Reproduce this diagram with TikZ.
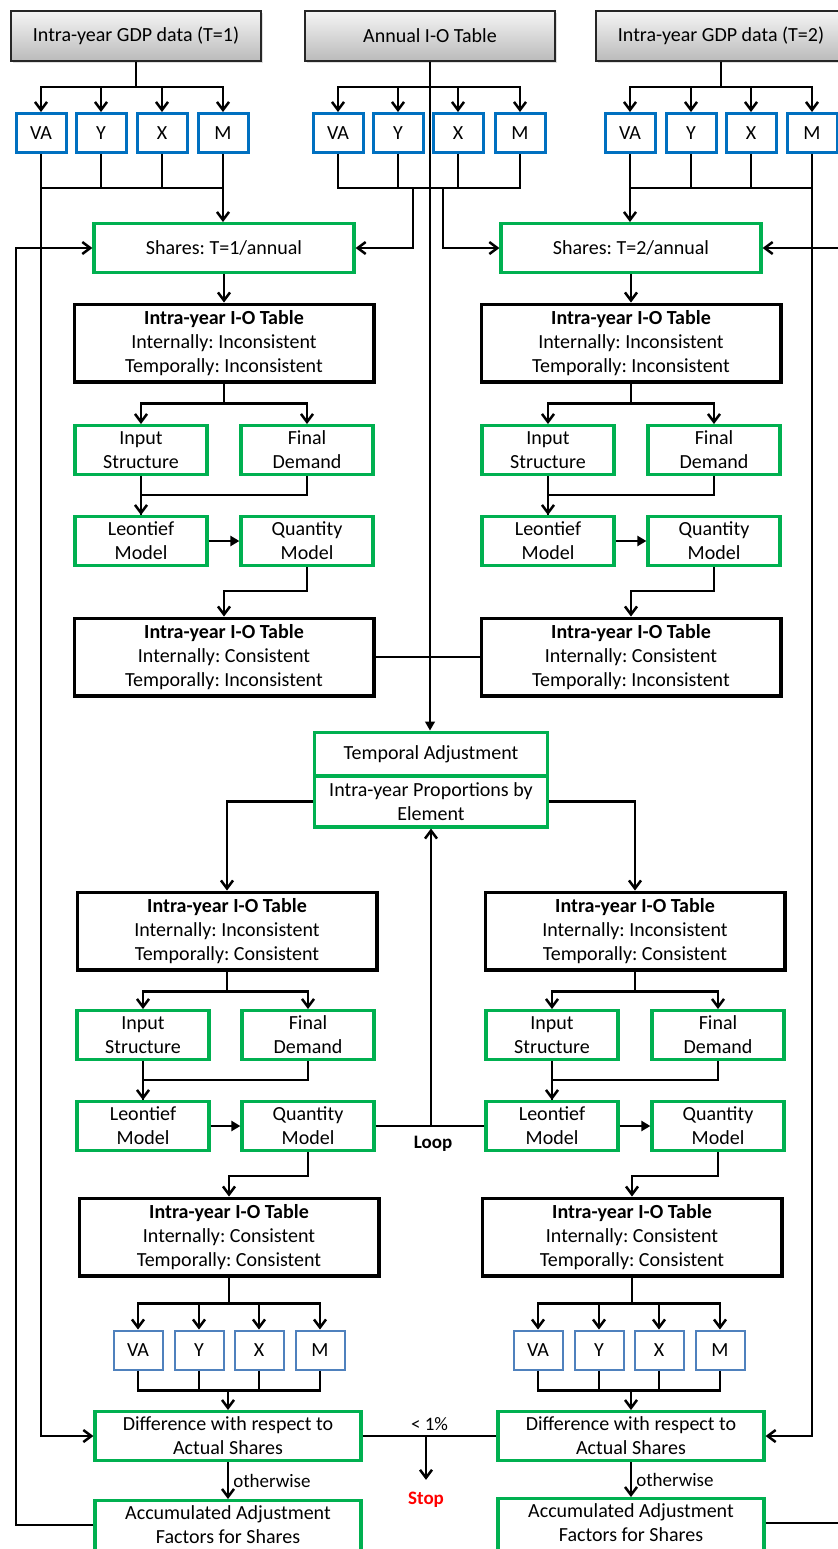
\documentclass[tikz,border=0pt]{standalone}
\usepackage{xcolor}
\usepackage{fontspec}
\setmainfont{Carlito}
\usepackage{tikz}
\usetikzlibrary{arrows.meta, shadows}
\definecolor{boxgreen}{HTML}{00B050}
\definecolor{boxblue}{HTML}{0070C0}
\definecolor{liteblue}{HTML}{4F81BD}
\definecolor{stopred}{HTML}{FF0000}
\frenchspacing

\tikzset{
  datanode/.style={draw=black!85, line width=0.9pt, top color=black!4, bottom color=black!27,
    drop shadow={opacity=0.25, shadow xshift=1pt, shadow yshift=-1pt},
    minimum width=125pt, minimum height=25pt, inner sep=2pt},
  varnode/.style={draw=boxblue, line width=1.5pt, fill=white, minimum width=25pt, minimum height=19.5pt, inner sep=1pt},
  varlite/.style={draw=liteblue, line width=1pt, fill=white, minimum width=24.5pt, minimum height=19.5pt, inner sep=1pt},
  greennode/.style={draw=boxgreen, line width=1.6pt, fill=white, align=center, inner sep=2pt, minimum height=24.4pt},
  sharenode/.style={greennode, minimum width=130pt},
  diffnode/.style={greennode, minimum width=133pt},
  halfnode/.style={greennode, minimum width=66pt},
  tempnode/.style={greennode, minimum width=116.4pt},
  tablenode/.style={draw=black, line width=1.7pt, fill=white, align=center, minimum width=149.8pt, minimum height=38.8pt, inner sep=2pt},
  flow/.style={line width=1.25pt, ->},
  wire/.style={line width=1.25pt},
  thinwire/.style={line width=0.65pt},
  tri/.style={-{Triangle[length=4.5pt, width=5pt]}},
  lbl/.style={font=\fontsize{9.5}{11}\selectfont, inner sep=2pt},
  boldlbl/.style={font=\fontsize{9.5}{11}\selectfont\bfseries, inner sep=1pt},
}

\begin{document}
\begin{tikzpicture}[x=0.5pt, y=-0.5pt, >={Straight Barb[length=4pt, width=6pt]}]
    \useasboundingbox (0,0) rectangle (838,1549);

    % Data sources
    \node[datanode] (gdp1) at (136,36) {Intra-year GDP data (T=1)};
    \node[datanode] (annual) at (430,36) {Annual I-O Table};
    \node[datanode] (gdp2) at (721,36) {Intra-year GDP data (T=2)};

    % Elements VA, Y, X, M of each source
    \foreach \n/\lab/\x in {va/VA/41, y/Y/101, x/X/162, m/M/223}
      \node[varnode] (\n1) at (\x,133) {\lab};
    \foreach \n/\lab/\x in {va/VA/338, y/Y/398, x/X/458, m/M/520}
      \node[varnode] (\n0) at (\x,133) {\lab};
    \foreach \n/\lab/\x in {va/VA/630, y/Y/691, x/X/751, m/M/812}
      \node[varnode] (\n2) at (\x,133) {\lab};

    \foreach \n in {va,y,x,m} {
      \draw[flow] (gdp1.south) -- ++(0,25) -| (\n1.north);
      \draw[flow] (annual.south) -- ++(0,25) -| (\n0.north);
      \draw[flow] (gdp2.south) -- ++(0,25) -| (\n2.north);
    }

    % Shares
    \node[sharenode] (shares1) at (224,248) {Shares: T=1/annual};
    \node[sharenode] (shares2) at (631,248) {Shares: T=2/annual};

    \foreach \n in {y,x} {
      \draw[wire] (\n1.south) -- ++(0,34);
      \draw[wire] (\n0.south) -- ++(0,34);
      \draw[wire] (\n2.south) -- ++(0,34);
    }
    \draw[wire] (va1.south) -- ++(0,34) -| (m1.south);
    \draw[wire] (va0.south) -- ++(0,34) -| (m0.south);
    \draw[wire] (va2.south) -- ++(0,34) -| (m2.south);
    \draw[flow] (m1.south) -- (m1.south |- shares1.north);
    \draw[flow] (va2.south) -- (va2.south |- shares2.north);
    \coordinate (split1) at (413,188);
    \coordinate (split2) at (443,188);
    \draw[flow] (split1) |- (shares1.east);
    \draw[flow] (split2) |- (shares2.west);

    % Upper blocks: inconsistent tables
    \node[tablenode] (tabInA) at (224,343) {\textbf{Intra-year I-O Table}\\Internally: Inconsistent\\Temporally: Inconsistent};
    \node[tablenode] (tabInB) at (631,343) {\textbf{Intra-year I-O Table}\\Internally: Inconsistent\\Temporally: Inconsistent};
    \draw[flow] (shares1) -- (tabInA);
    \draw[flow] (shares2) -- (tabInB);

    \node[halfnode] (inA) at (141,450) {Input\\Structure};
    \node[halfnode] (fdA) at (307,450) {Final\\Demand};
    \node[halfnode] (leoA) at (141,541) {Leontief\\Model};
    \node[halfnode] (qtyA) at (307,541) {Quantity\\Model};
    \node[halfnode] (inB) at (548,450) {Input\\Structure};
    \node[halfnode] (fdB) at (714,450) {Final\\Demand};
    \node[halfnode] (leoB) at (548,541) {Leontief\\Model};
    \node[halfnode] (qtyB) at (714,541) {Quantity\\Model};

    \node[tablenode] (tabOutA) at (224,657) {\textbf{Intra-year I-O Table}\\Internally: Consistent\\Temporally: Inconsistent};
    \node[tablenode] (tabOutB) at (631,657) {\textbf{Intra-year I-O Table}\\Internally: Consistent\\Temporally: Inconsistent};
    \draw[thinwire] (tabOutA) -- (tabOutB);

    % Temporal adjustment
    \node[tempnode, minimum height=21.9pt] (tempTop) at (431,754) {Temporal Adjustment};
    \node[tempnode, minimum height=25.5pt, anchor=north] (tempBot) at ([yshift=1.6pt]tempTop.south) {Intra-year Proportions by\\Element};
    \draw[thinwire, tri] (annual.south) -- (annual.south |- tempTop.north);

    % Lower blocks: temporally consistent tables
    \node[tablenode] (tabInC) at (227,931) {\textbf{Intra-year I-O Table}\\Internally: Inconsistent\\Temporally: Consistent};
    \node[tablenode] (tabInD) at (635,931) {\textbf{Intra-year I-O Table}\\Internally: Inconsistent\\Temporally: Consistent};
    \draw[flow] (tempBot.west) -| (tabInC.north);
    \draw[flow] (tempBot.east) -| (tabInD.north);

    \node[halfnode] (inC) at (143,1035) {Input\\Structure};
    \node[halfnode] (fdC) at (308,1035) {Final\\Demand};
    \node[halfnode] (leoC) at (143,1126) {Leontief\\Model};
    \node[halfnode] (qtyC) at (308,1126) {Quantity\\Model};
    \node[halfnode] (inD) at (552,1035) {Input\\Structure};
    \node[halfnode] (fdD) at (718,1035) {Final\\Demand};
    \node[halfnode] (leoD) at (552,1126) {Leontief\\Model};
    \node[halfnode] (qtyD) at (718,1126) {Quantity\\Model};

    \node[tablenode] (tabOutC) at (229,1237) {\textbf{Intra-year I-O Table}\\Internally: Consistent\\Temporally: Consistent};
    \node[tablenode] (tabOutD) at (632,1237) {\textbf{Intra-year I-O Table}\\Internally: Consistent\\Temporally: Consistent};

    % Same wiring inside each block
    \foreach \b in {A,B,C,D} {
      \draw[flow] (tabIn\b.south) -- ++(0,20) -| (in\b.north);
      \draw[flow] (tabIn\b.south) -- ++(0,20) -| (fd\b.north);
      \draw[wire] (in\b) -- (leo\b);
      \draw[flow] (fd\b.south) -- ++(0,19) -| (leo\b.north);
      \draw[wire, tri] (leo\b) -- (qty\b);
      \draw[flow] (qty\b.south) -- ++(0,24) -| (tabOut\b.north);
    }

    % Loop
    \draw[wire] (qtyC) -- (leoD);
    \draw[flow] (tempBot.south |- qtyC.east) -- (tempBot.south);
    \node[boldlbl] (looplbl) at (433,1144) {Loop};

    % Elements of the adjusted tables
    \foreach \n/\lab/\x in {va/VA/138, y/Y/199, x/X/259, m/M/320}
      \node[varlite] (\n3) at (\x,1350) {\lab};
    \foreach \n/\lab/\x in {va/VA/538, y/Y/599, x/X/659, m/M/720}
      \node[varlite] (\n4) at (\x,1350) {\lab};
    \foreach \n in {va,y,x,m} {
      \draw[flow] (tabOutC.south) -- ++(0,26) -| (\n3.north);
      \draw[flow] (tabOutD.south) -- ++(0,26) -| (\n4.north);
    }
    \foreach \n in {y,x} {
      \draw[wire] (\n3.south) -- ++(0,20);
      \draw[wire] (\n4.south) -- ++(0,20);
    }
    \draw[wire] (va3.south) -- ++(0,20) -| (m3.south);
    \draw[wire] (va4.south) -- ++(0,20) -| (m4.south);

    % Check against actual shares
    \node[diffnode] (diff1) at (228,1436) {Difference with respect to\\Actual Shares};
    \node[diffnode] (diff2) at (631,1436) {Difference with respect to\\Actual Shares};
    \node[diffnode, minimum height=28.4pt, anchor=north] (acc1) at (228,1499) {};
    \node[diffnode, minimum height=28.4pt, anchor=north] (acc2) at (631,1497) {};
    \node[align=center, inner sep=0pt] (acc1txt) at (228,1525) {Accumulated Adjustment\\Factors for Shares};
    \node[align=center, inner sep=0pt] (acc2txt) at (631,1523) {Accumulated Adjustment\\Factors for Shares};
    \draw[flow] ([yshift=10pt]diff1.north) -- (diff1.north);
    \draw[flow] ([yshift=10pt]diff2.north) -- (diff2.north);
    \draw[flow] (diff1) -- node[lbl, right] {otherwise} (acc1);
    \draw[flow] (diff2) -- node[lbl, right] {otherwise} (acc2);

    \draw[wire] (diff1) -- node[lbl, above] {< 1\%} (diff2);
    \node[boldlbl, text=stopred] (stop) at (426,1500) {Stop};
    \draw[flow] (stop.north |- diff1.east) -- ([yshift=5pt]stop.north);

    % Feedback rails
    \coordinate (railL) at (16,0);
    \coordinate (railR) at (850,0);
    \draw[flow] (va1.south) |- (diff1.west);
    \draw[flow] (m2.south) |- (diff2.east);
    \draw[flow] (acc1txt -| acc1.west) -| (railL |- shares1.west) -- (shares1.west);
    \draw[flow] (acc2txt -| acc2.east) -| (railR |- shares2.east) -- (shares2.east);
\end{tikzpicture}
\end{document}
